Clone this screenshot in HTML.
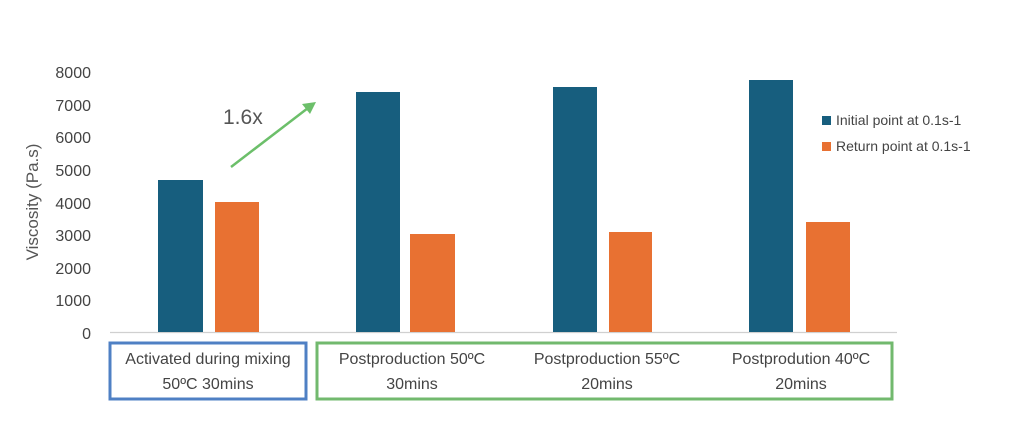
<!DOCTYPE html>
<html><head><style>body{margin:0;background:#fff}</style></head><body>
<svg width="1024" height="443" viewBox="0 0 1024 443" xmlns="http://www.w3.org/2000/svg" font-family="Liberation Sans, sans-serif">
<rect width="1024" height="443" fill="#fff"/>
<g font-size="16" fill="#444" text-anchor="end">
<text x="91" y="339">0</text><text x="91" y="306">1000</text><text x="91" y="274">2000</text><text x="91" y="241">3000</text><text x="91" y="209">4000</text><text x="91" y="176">5000</text><text x="91" y="143">6000</text><text x="91" y="111">7000</text><text x="91" y="78">8000</text>
</g>
<text transform="translate(38,202) rotate(-90)" font-size="17" fill="#555" text-anchor="middle">Viscosity (Pa.s)</text>
<line x1="110" y1="332.5" x2="897" y2="332.5" stroke="#d0d0d0" stroke-width="1.2"/>
<g fill="#175e7e">
<rect x="158" y="180" width="45" height="152"/><rect x="356" y="92" width="44" height="240"/><rect x="553" y="87" width="44" height="245"/><rect x="749" y="80" width="44" height="252"/>
</g>
<g fill="#e87132">
<rect x="215" y="202" width="44" height="130"/><rect x="410" y="234" width="45" height="98"/><rect x="609" y="232" width="43" height="100"/><rect x="806" y="222" width="44" height="110"/>
</g>
<line x1="231" y1="167" x2="308" y2="108" stroke="#6cbf6a" stroke-width="2.5"/>
<polygon points="316,102 302,104 310,114" fill="#6cbf6a"/>
<text x="223" y="124" font-size="21" fill="#555">1.6x</text>
<rect x="822" y="116" width="9" height="9" fill="#175e7e"/>
<text x="836" y="125" font-size="14" fill="#444">Initial point at 0.1s-1</text>
<rect x="822" y="142" width="9" height="9" fill="#e87132"/>
<text x="836" y="151" font-size="14" fill="#444">Return point at 0.1s-1</text>
<rect x="110" y="343" width="196" height="56" fill="none" stroke="#4f80c4" stroke-width="3"/>
<rect x="317" y="343" width="575" height="56" fill="none" stroke="#72b96e" stroke-width="3"/>
<g font-size="16" fill="#444" text-anchor="middle">
<text x="208" y="364">Activated during mixing</text><text x="208" y="389">50ºC 30mins</text>
<text x="412" y="364">Postproduction 50ºC</text><text x="412" y="389">30mins</text>
<text x="607" y="364">Postproduction 55ºC</text><text x="607" y="389">20mins</text>
<text x="801" y="364">Postprodution 40ºC</text><text x="801" y="389">20mins</text>
</g>
</svg>
</body></html>
